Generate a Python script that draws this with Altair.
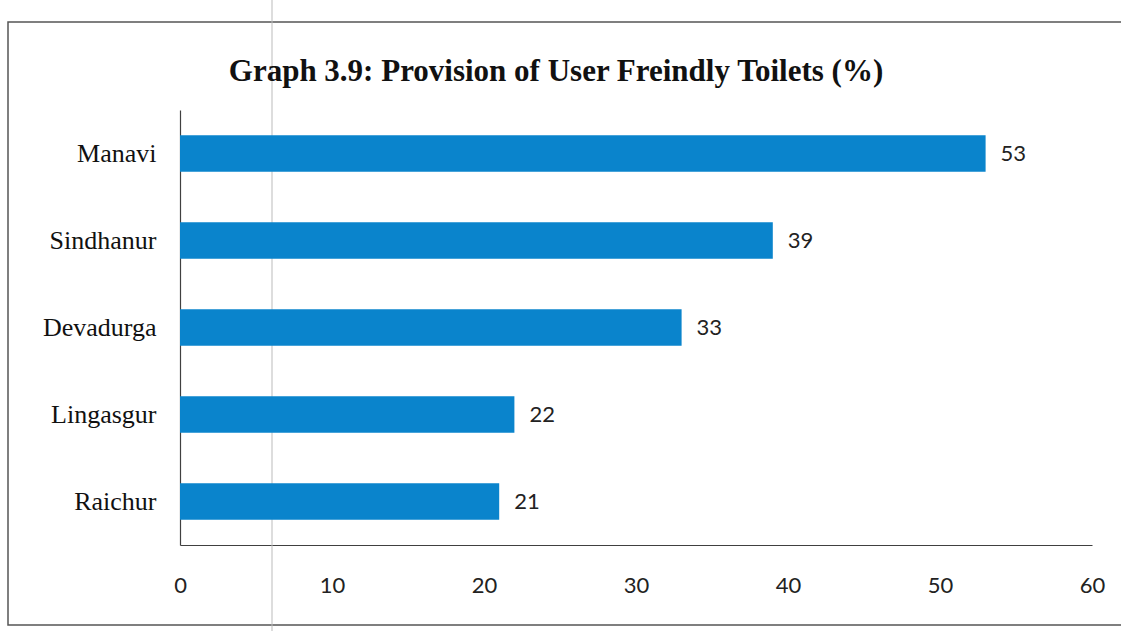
import altair as alt
import pandas as pd

districts = ["Manavi", "Sindhanur", "Devadurga", "Lingasgur", "Raichur"]
values = [53, 39, 33, 22, 21]
x_ticks = [0, 10, 20, 30, 40, 50, 60]
title_text = "Graph 3.9: Provision of User Freindly Toilets (%)"

df = pd.DataFrame({"district": districts, "value": values})

W, H = 912, 435
LEFT, TOP = 180, 110
RIGHT, BOTTOM = 1121 - LEFT - W, 631 - TOP - H

x_scale = alt.Scale(domain=[0, 60], nice=False)
y_scale = alt.Scale(domain=districts, paddingInner=0.58, paddingOuter=0.29)

bars = alt.Chart(df).mark_bar(color="#0a84cc").encode(
    x=alt.X("value:Q", scale=x_scale,
            axis=alt.Axis(values=x_ticks, title=None, grid=False, ticks=False,
                          domainColor="#404040", domainWidth=1.2,
                          labelFont="Lato", labelFontSize=22, labelColor="#222222",
                          labelPadding=30, labelBaseline="top", labelFlush=False)),
    y=alt.Y("district:N", scale=y_scale, sort=districts,
            axis=alt.Axis(title=None, ticks=False, domainColor="#404040", domainWidth=1.2,
                          labelFont="Liberation Serif", labelFontSize=26,
                          labelColor="#111111", labelPadding=24)),
)

labels = alt.Chart(df).mark_text(align="left", baseline="middle", dx=15,
                                 font="Lato", fontSize=22, color="#222222").encode(
    x=alt.X("value:Q", scale=x_scale),
    y=alt.Y("district:N", scale=y_scale, sort=districts),
    text=alt.Text("value:Q"),
)

title = alt.Chart(pd.DataFrame({"t": [title_text]})).mark_text(
    font="Liberation Serif", fontSize=31, fontWeight="bold", color="#111111",
    align="center", baseline="middle").encode(
    x=alt.value(556 - LEFT), y=alt.value(72 - TOP), text="t:N")

frame = alt.Chart(pd.DataFrame({"a": [0]})).mark_rect(
    fill=None, stroke="#555555", strokeWidth=1.5).encode(
    x=alt.value(8 - LEFT), x2=alt.value(1140 - LEFT),
    y=alt.value(22 - TOP), y2=alt.value(625 - TOP))

artifact = alt.Chart(pd.DataFrame({"a": [0]})).mark_rule(
    color="#bbbbbb", strokeWidth=1).encode(
    x=alt.value(272 - LEFT), y=alt.value(0 - TOP), y2=alt.value(631 - TOP))

chart = alt.layer(frame, artifact, bars, labels, title).properties(
    width=W, height=H,
    autosize=alt.AutoSizeParams(type="none"),
    padding={"left": LEFT, "top": TOP, "right": RIGHT, "bottom": BOTTOM},
    background="white",
).configure_view(stroke=None)

chart.save("out.html", embed_options={"renderer": "svg", "actions": False})
